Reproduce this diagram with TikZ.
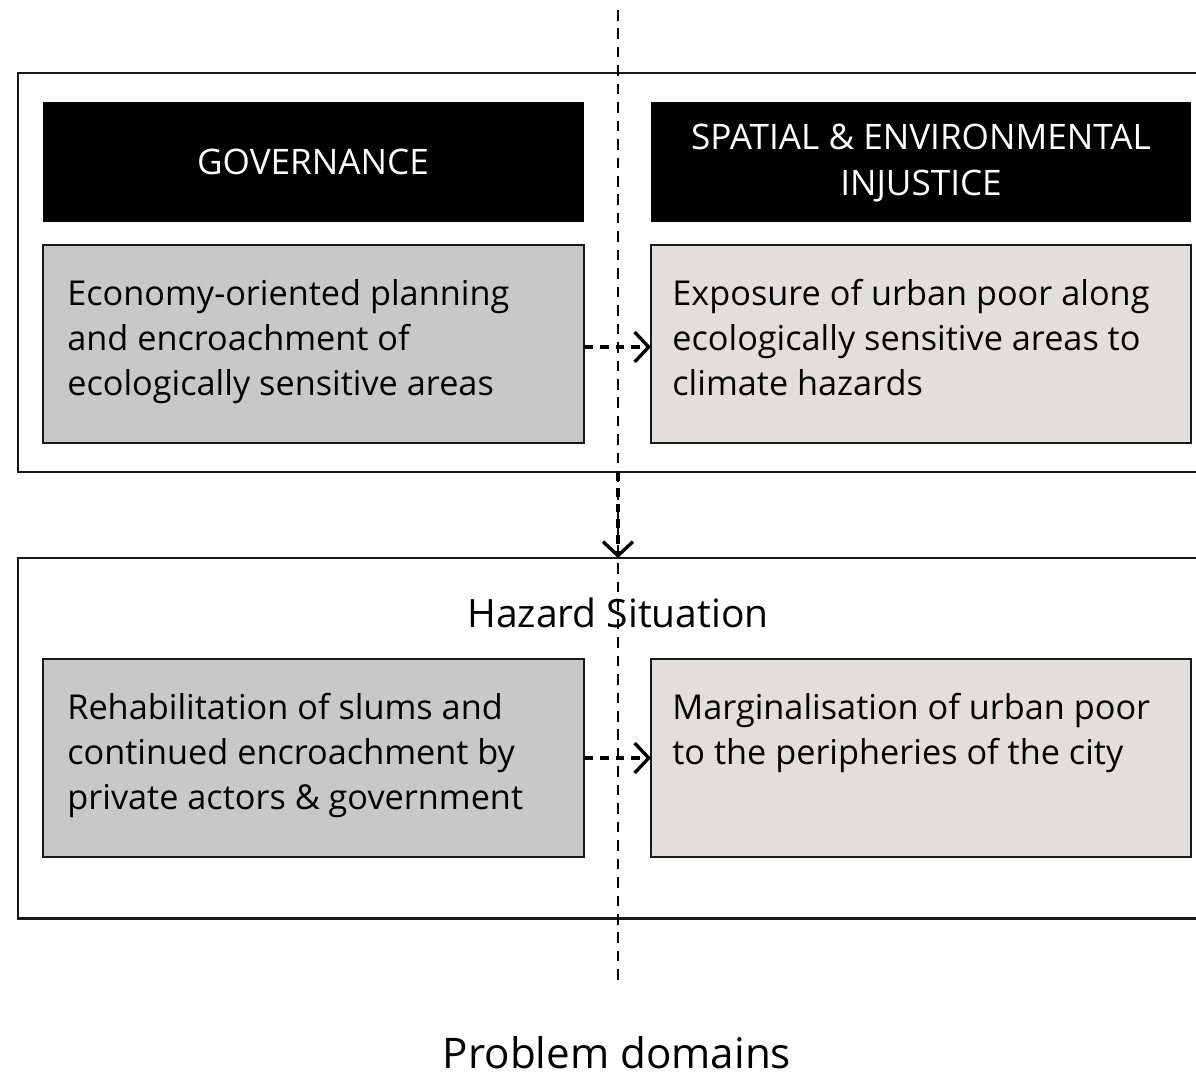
\documentclass[tikz,border=0pt]{standalone}
\usepackage{fontspec}
\setmainfont{Open Sans}
\usetikzlibrary{arrows.meta}
\definecolor{grayA}{HTML}{C8C8C8}
\definecolor{grayB}{HTML}{E2DEDE}
\begin{document}
\begin{tikzpicture}[x=0.02cm,y=-0.02cm,
  frame/.style={draw=black!90,line width=1.7pt},
  domainbox/.style={draw=black!90,line width=1.6pt},
  headtext/.style={text=white,font=\fontsize{20}{26}\selectfont,align=center},
  bodytext/.style={font=\fontsize{19.5}{25.6}\selectfont,align=left,anchor=north west,inner sep=0pt},
  divider/.style={line width=0.9pt,dash pattern=on 6pt off 4.5pt},
  flow/.style={line width=2.2pt,dash pattern=on 5pt off 4pt,-{Straight Barb[length=8pt,width=17pt,line width=1.9pt]}}
]
\useasboundingbox (0,0) rectangle (1196,1084);
% outer frames (open on the right)
\draw[frame] (1196,73) -- (18,73) -- (18,472) -- (1196,472);
\draw[frame] (1196,558) -- (18,558) -- (18,918) -- (1196,918);
% heading boxes
\fill[black] (43,102) rectangle (584,222);
\fill[black] (651,102) rectangle (1191,222);
\node[headtext] (gov) at (313,162) {GOVERNANCE};
\node[headtext] (spat) at (921,163) {SPATIAL \& ENVIRONMENTAL\\INJUSTICE};
% domain boxes
\draw[domainbox,fill=grayA] (43,245) rectangle (584,443);
\draw[domainbox,fill=grayB] (651,245) rectangle (1191,443);
\draw[domainbox,fill=grayA] (43,659) rectangle (584,857);
\draw[domainbox,fill=grayB] (651,659) rectangle (1191,857);
\coordinate (a1) at (584,347);
\coordinate (b1) at (651,347);
\coordinate (a2) at (584,758);
\coordinate (b2) at (651,758);
\node[bodytext] (t1) at (67,279) {Economy-oriented planning\\and encroachment of\\ecologically sensitive areas};
\node[bodytext] (t2) at (672,279) {Exposure of urban poor along\\ecologically sensitive areas to\\climate hazards};
\node[bodytext] (t3) at (67,693) {Rehabilitation of slums and\\continued encroachment by\\private actors \& government};
\node[bodytext] (t4) at (672,693) {Marginalisation of urban poor\\to the peripheries of the city};
\node[font=\fontsize{22.2}{26}\selectfont] (haz) at (618,613) {Hazard Situation};
% divider
\coordinate (d0) at (618,10);
\coordinate (d1) at (618,985);
\draw[divider] (d0) -- (d1);
% flows
\draw[flow] (a1) -- (b1);
\draw[flow] (a2) -- (b2);
\coordinate (v0) at (618,472);
\coordinate (v1) at (618,558);
\draw[flow] (v0) -- (v1);
\node[font=\fontsize{24}{28}\selectfont] (pd) at (617,1053) {Problem domains};
\end{tikzpicture}
\end{document}
